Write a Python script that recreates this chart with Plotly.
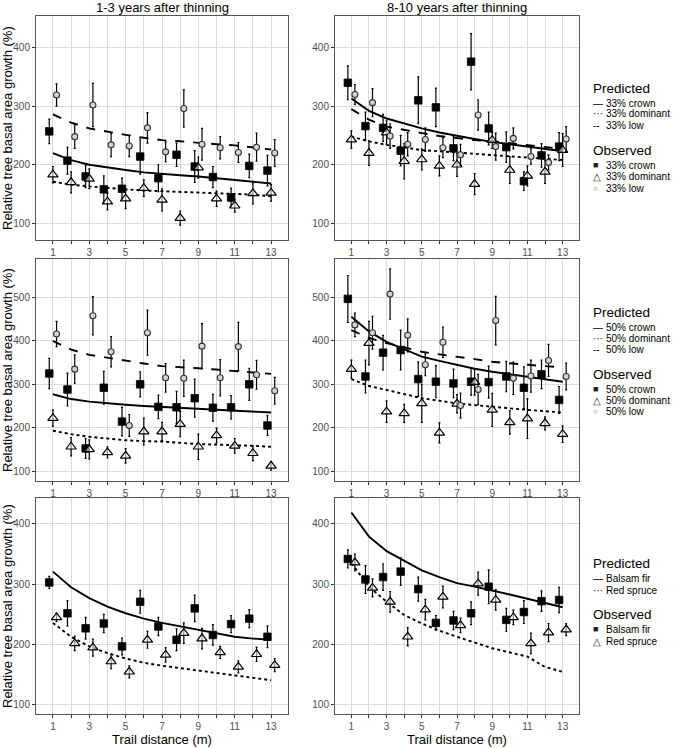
import plotly.graph_objects as go

# ---------------- data ----------------
distances = list(range(1, 14))
x_tick_text = ["1", "", "3", "", "5", "", "7", "", "9", "", "11", "", "13"]
col_titles = ["1-3 years after thinning", "8-10 years after thinning"]
y_title = "Relative tree basal area growth (%)"
x_title = "Trail distance (m)"

# Row 1: 33% thinning
p1_pred_crown = [220, 208, 200, 195, 191, 187, 184, 182, 180, 177, 175, 172, 168]
p1_pred_dom = [171, 166, 163, 160, 158, 156, 155, 154, 153, 152, 151, 149, 146]
p1_pred_low = [286, 272, 262, 256, 251, 246, 242, 240, 237, 235, 233, 230, 226]
p1_obs_crown = [257, 207, 180, 158, 159, 214, 177, 217, 197, 179, 144, 198, 190]
p1_err_crown = [21, 23, 19, 23, 18, 30, 23, 20, 27, 18, 16, 20, 26]
p1_obs_dom = [183, 170, 176, 137, 142, 160, 140, 109, 195, 142, 130, 151, 152]
p1_err_dom = [14, 18, 17, 14, 17, 14, 19, 12, 18, 13, 11, 18, 14]
p1_obs_low = [319, 248, 302, 234, 232, 263, 222, 296, 235, 229, 221, 230, 220]
p1_err_low = [19, 20, 37, 20, 18, 26, 17, 32, 27, 19, 17, 24, 23]

p2_pred_crown = [313, 292, 279, 270, 262, 255, 249, 244, 239, 235, 231, 227, 223]
p2_pred_dom = [248, 240, 234, 229, 225, 223, 221, 219, 217, 215, 213, 211, 208]
p2_pred_low = [295, 277, 265, 259, 254, 249, 245, 242, 240, 237, 234, 230, 227]
p2_obs_crown = [340, 266, 263, 224, 310, 298, 228, 376, 262, 230, 172, 216, 231]
p2_err_crown = [29, 24, 23, 26, 40, 33, 21, 48, 28, 26, 16, 20, 24]
p2_obs_dom = [243, 220, 255, 206, 209, 198, 200, 167, 242, 191, 181, 188, 225]
p2_err_dom = [15, 21, 20, 30, 18, 17, 20, 18, 14, 23, 17, 20, 28]
p2_obs_low = [320, 306, 249, 235, 243, 229, 217, 285, 231, 245, 214, 204, 244]
p2_err_low = [17, 24, 21, 20, 20, 17, 18, 26, 23, 18, 13, 13, 21]

# Row 2: 50% thinning
p3_pred_crown = [277, 266, 260, 256, 253, 250, 248, 246, 244, 242, 240, 238, 235]
p3_pred_dom = [193, 185, 179, 175, 171, 169, 168, 165, 162, 161, 160, 158, 156]
p3_pred_low = [400, 380, 368, 361, 355, 348, 342, 340, 337, 334, 331, 327, 324]
p3_obs_crown = [325, 288, 152, 292, 214, 300, 248, 247, 268, 246, 247, 300, 205]
p3_err_crown = [35, 38, 23, 38, 33, 29, 27, 37, 44, 31, 27, 37, 23]
p3_obs_dom = [222, 156, 150, 143, 135, 191, 191, 208, 156, 182, 158, 141, 112]
p3_err_dom = [19, 21, 22, 13, 17, 31, 21, 29, 29, 17, 17, 17, 10]
p3_obs_low = [416, 335, 458, 375, 205, 419, 315, 314, 388, 315, 387, 322, 285]
p3_err_low = [29, 33, 44, 35, 25, 52, 33, 42, 52, 42, 56, 33, 31]

p4_pred_crown = [456, 422, 398, 381, 364, 354, 345, 336, 329, 323, 318, 312, 306]
p4_pred_dom = [312, 296, 287, 277, 268, 262, 256, 252, 248, 244, 241, 238, 235]
p4_pred_low = [425, 407, 395, 385, 375, 369, 364, 358, 352, 348, 345, 342, 339]
p4_obs_crown = [497, 318, 373, 379, 312, 306, 302, 306, 305, 318, 292, 323, 264]
p4_err_crown = [54, 38, 40, 46, 40, 37, 33, 31, 37, 35, 48, 33, 31]
p4_obs_dom = [335, 395, 237, 233, 256, 188, 255, 305, 241, 212, 221, 210, 185]
p4_err_dom = [21, 50, 25, 21, 44, 23, 21, 30, 38, 27, 46, 15, 19]
p4_obs_low = [437, 419, 508, 413, 345, 397, 251, 288, 447, 314, 319, 355, 318]
p4_err_low = [27, 38, 58, 38, 25, 35, 29, 35, 56, 37, 37, 37, 31]

# Row 3: species
p5_pred_fir = [321, 295, 277, 263, 252, 243, 236, 230, 224, 218, 213, 210, 208]
p5_pred_spruce = [236, 213, 197, 186, 177, 170, 165, 161, 158, 153, 149, 145, 141]
p5_obs_fir = [303, 252, 227, 235, 197, 271, 230, 208, 260, 216, 234, 243, 213]
p5_err_fir = [10, 21, 18, 15, 14, 19, 15, 18, 22, 17, 14, 15, 18]
p5_obs_spruce = [245, 202, 195, 172, 155, 208, 183, 219, 210, 187, 163, 184, 166]
p5_err_spruce = [7, 12, 14, 12, 10, 14, 12, 17, 17, 10, 10, 12, 11]

p6_pred_fir = [419, 379, 355, 339, 323, 312, 302, 296, 290, 283, 276, 269, 262]
p6_pred_spruce = [335, 296, 271, 249, 235, 223, 213, 203, 194, 187, 180, 163, 155]
p6_obs_fir = [342, 308, 312, 321, 292, 236, 240, 252, 296, 241, 254, 272, 274]
p6_err_fir = [15, 23, 22, 23, 20, 12, 15, 19, 28, 19, 19, 17, 21]
p6_obs_spruce = [336, 294, 271, 213, 258, 279, 232, 301, 274, 245, 202, 220, 225]
p6_err_spruce = [14, 15, 17, 15, 17, 18, 12, 19, 17, 12, 17, 15, 10]

row_y_ranges = [[71.5, 454], [77, 589], [85, 443]]
row_y_ticks = [[100, 200, 300, 400], [100, 200, 300, 400, 500], [100, 200, 300, 400]]
x_range = [0.07, 13.93]

# legend texts
row_names = [
    {"crown": "33% crown", "dominant": "33% dominant", "low": "33% low"},
    {"crown": "50% crown", "dominant": "50% dominant", "low": "50% low"},
    {"fir": "Balsam fir", "spruce": "Red spruce"},
]
legend_titles = ["Predicted", "Observed"]

# ---------------- styles ----------------
FONT = "Liberation Sans, Arial, sans-serif"
W, H = 685, 748
col_px = [(36, 288), (335, 579)]
row_px = [(16, 240), (259, 481), (498, 714)]

LINE_STYLES = {"crown": "solid", "dominant": "dot", "low": "dash", "fir": "solid", "spruce": "dot"}
LINE_KEYS = {"crown": "—", "dominant": "···", "low": "--", "fir": "—", "spruce": "···"}
POINT_KEYS = {"crown": "■", "dominant": "△", "low": "○", "fir": "■", "spruce": "△"}
POINT_KEY_SIZE = {"crown": 9, "dominant": 10, "low": 8, "fir": 9, "spruce": 10}
TRI_FILL = "rgba(255,255,255,0.55)"
MARKERS = {
    "crown": dict(symbol="square", size=7.5, color="black", line=dict(color="black", width=0.8)),
    "dominant": dict(symbol="triangle-up", size=9, color=TRI_FILL, line=dict(color="black", width=1.2)),
    "low": dict(symbol="circle", size=6, color="#d4d4d4", line=dict(color="#333333", width=1.1)),
    "fir": dict(symbol="square", size=7.5, color="black", line=dict(color="black", width=0.8)),
    "spruce": dict(symbol="triangle-up", size=9, color=TRI_FILL, line=dict(color="black", width=1.2)),
}
OFFSETS3 = {"crown": -0.2, "dominant": 0.0, "low": 0.2}
OFFSETS2 = {"fir": -0.2, "spruce": 0.2}

panels = [
    dict(row=0, col=0,
         pred={"crown": p1_pred_crown, "dominant": p1_pred_dom, "low": p1_pred_low},
         obs={"crown": (p1_obs_crown, p1_err_crown), "dominant": (p1_obs_dom, p1_err_dom), "low": (p1_obs_low, p1_err_low)}),
    dict(row=0, col=1,
         pred={"crown": p2_pred_crown, "dominant": p2_pred_dom, "low": p2_pred_low},
         obs={"crown": (p2_obs_crown, p2_err_crown), "dominant": (p2_obs_dom, p2_err_dom), "low": (p2_obs_low, p2_err_low)}),
    dict(row=1, col=0,
         pred={"crown": p3_pred_crown, "dominant": p3_pred_dom, "low": p3_pred_low},
         obs={"crown": (p3_obs_crown, p3_err_crown), "dominant": (p3_obs_dom, p3_err_dom), "low": (p3_obs_low, p3_err_low)}),
    dict(row=1, col=1,
         pred={"crown": p4_pred_crown, "dominant": p4_pred_dom, "low": p4_pred_low},
         obs={"crown": (p4_obs_crown, p4_err_crown), "dominant": (p4_obs_dom, p4_err_dom), "low": (p4_obs_low, p4_err_low)}),
    dict(row=2, col=0,
         pred={"fir": p5_pred_fir, "spruce": p5_pred_spruce},
         obs={"fir": (p5_obs_fir, p5_err_fir), "spruce": (p5_obs_spruce, p5_err_spruce)}),
    dict(row=2, col=1,
         pred={"fir": p6_pred_fir, "spruce": p6_pred_spruce},
         obs={"fir": (p6_obs_fir, p6_err_fir), "spruce": (p6_obs_spruce, p6_err_spruce)}),
]

fig = go.Figure()
layout_axes = {}

for i, p in enumerate(panels):
    n = i + 1
    xa = "x" if n == 1 else f"x{n}"
    ya = "y" if n == 1 else f"y{n}"
    xkey = "xaxis" if n == 1 else f"xaxis{n}"
    ykey = "yaxis" if n == 1 else f"yaxis{n}"
    r, c = p["row"], p["col"]
    x0, x1 = col_px[c]
    y0, y1 = row_px[r]
    offsets = OFFSETS3 if "crown" in p["pred"] else OFFSETS2
    names = row_names[r]

    for k, vals in p["pred"].items():
        fig.add_trace(go.Scatter(
            x=distances, y=vals, mode="lines", xaxis=xa, yaxis=ya,
            name="Predicted " + names[k], showlegend=False,
            line=dict(color="black", width=1.9, dash=LINE_STYLES[k]),
        ))
    for k, (vals, errs) in p["obs"].items():
        fig.add_trace(go.Scatter(
            x=[d + offsets[k] for d in distances], y=vals, mode="markers",
            xaxis=xa, yaxis=ya, name="Observed " + names[k], showlegend=False,
            marker=MARKERS[k],
            error_y=dict(type="data", array=errs, color="black", thickness=1.2, width=1),
        ))

    axis_common = dict(
        ticks="outside", ticklen=3, tickcolor="#333333",
        showgrid=True, gridcolor="#dadada", gridwidth=1,
        showline=True, mirror=True, linecolor="#555555", linewidth=1,
        zeroline=False, automargin=False,
        tickfont=dict(size=10, color="#4d4d4d", family=FONT),
    )
    layout_axes[xkey] = dict(domain=[x0 / W, x1 / W], anchor=ya, range=x_range,
                             tickmode="array", tickvals=distances, ticktext=x_tick_text, **axis_common)
    layout_axes[ykey] = dict(domain=[1 - y1 / H, 1 - y0 / H], anchor=xa, range=row_y_ranges[r],
                             tickmode="array", tickvals=row_y_ticks[r], **axis_common)

annotations = []


def ann(text, xpx, ypx, size, xanchor="left", angle=0, color="black"):
    annotations.append(dict(text=text, x=xpx / W, y=1 - ypx / H, xref="paper", yref="paper",
                            xanchor=xanchor, yanchor="middle", textangle=angle, showarrow=False,
                            font=dict(size=size, family=FONT, color=color)))


for c, t in enumerate(col_titles):
    x0, x1 = col_px[c]
    ann(t, (x0 + x1) / 2, 7, 13, xanchor="center")
    ann(x_title, (x0 + x1) / 2, 739, 13, xanchor="center")
for r in range(3):
    y0, y1 = row_px[r]
    ann(y_title, 7, (y0 + y1) / 2, 13, xanchor="center", angle=-90)

# legends (one per row), built as text
legend_rows = [
    dict(pred_title=88, pred_items=[103, 114, 125], obs_title=150, obs_items=[165, 177, 188]),
    dict(pred_title=312, pred_items=[327, 338, 349], obs_title=374, obs_items=[389, 400, 411]),
    dict(pred_title=563, pred_items=[578, 590], obs_title=614, obs_items=[629, 641]),
]
LEG_X, KEY_X, TXT_X = 591, 591, 604
for r, lr in enumerate(legend_rows):
    keys = list(row_names[r].keys())
    ann(legend_titles[0], LEG_X, lr["pred_title"], 13.5)
    for k, ypx in zip(keys, lr["pred_items"]):
        ann(LINE_KEYS[k], KEY_X, ypx, 10)
        ann(row_names[r][k], TXT_X, ypx, 10)
    ann(legend_titles[1], LEG_X, lr["obs_title"], 13.5)
    for k, ypx in zip(keys, lr["obs_items"]):
        ann(POINT_KEYS[k], KEY_X, ypx, POINT_KEY_SIZE[k], color="#222222" if k != "low" else "#555555")
        ann(row_names[r][k], TXT_X, ypx, 10)

fig.update_layout(
    width=W, height=H,
    margin=dict(l=0, r=0, t=0, b=0),
    paper_bgcolor="white", plot_bgcolor="white",
    font=dict(family=FONT),
    showlegend=False,
    annotations=annotations,
    **layout_axes,
)

# remove the browser's default 8px page margin so the figure fills the window exactly
fig.write_html("out.html", config={"displayModeBar": False},
               post_script="document.body.style.margin='0';")
